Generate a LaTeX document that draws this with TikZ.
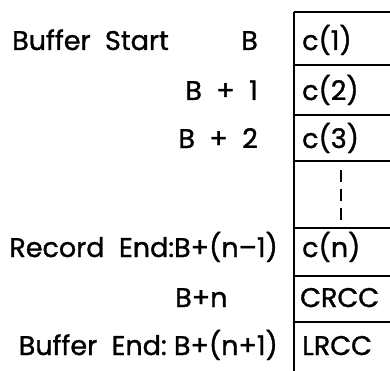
\documentclass[tikz,border=0pt]{standalone}
\usepackage{fontspec}
\setmainfont{Poppins}[FakeBold=1.2,BoldFont=Poppins]
\begin{document}
\begin{tikzpicture}[x=1pt,y=1pt,
  lbl/.style={inner sep=0pt,font=\fontsize{27}{29}\selectfont\bfseries},
  boxline/.style={line width=1.7pt}]
\useasboundingbox (0,0) rectangle (390,370);
\begin{scope}
\clip (0,0) rectangle (390,370);
% box outline
\coordinate (tl) at (294,358);
\coordinate (tr) at (400,358);
\coordinate (bl) at (294,-5);
\draw[boxline] (tr) -- (tl);
\draw[line width=2.2pt] (tl) -- (bl);
\foreach \yy/\nm in {305/h1,255/h2,209/h3,142/h4,94/h5,48/h6}{
  \coordinate (\nm a) at (294,\yy);
  \coordinate (\nm b) at (400,\yy);
  \draw[boxline] (\nm a) -- (\nm b);
}
\coordinate (d1) at (341,200);
\coordinate (d2) at (341,148);
\draw[line width=1.5pt,dash pattern=on 12pt off 7pt] (d1) -- (d2);
\end{scope}
% cell contents
\node[lbl,anchor=base west] (c1) at (302,320) {c(1)};
\node[lbl,anchor=base west] (c2) at (302,270) {c(2)};
\node[lbl,anchor=base west] (c3) at (302,222) {c(3)};
\node[lbl,anchor=base west] (cn) at (302,113) {c(n)};
\node[lbl,anchor=base west] (crcc) at (300,63) {CRCC};
\node[lbl,anchor=base west] (lrcc) at (302,15) {LRCC};
% address labels
\node[lbl,anchor=base west] (bs) at (12,320) {Buffer\ \ Start};
\node[lbl,anchor=base east] (b0) at (258,320) {B};
\node[lbl,anchor=base east] (b1) at (258,270) {B\ \ +\ \ 1};
\node[lbl,anchor=base east] (b2) at (258,222) {B\ \ +\ \ 2};
\node[lbl,anchor=base east] (re) at (278,113) {Record\ \ End:B+(n{\textendash}1)};
\node[lbl,anchor=base west] (bn) at (175,63) {B+n};
\node[lbl,anchor=base east] (be) at (278,15) {Buffer\ \ End:\ B+(n+1)};
\end{tikzpicture}
\end{document}
